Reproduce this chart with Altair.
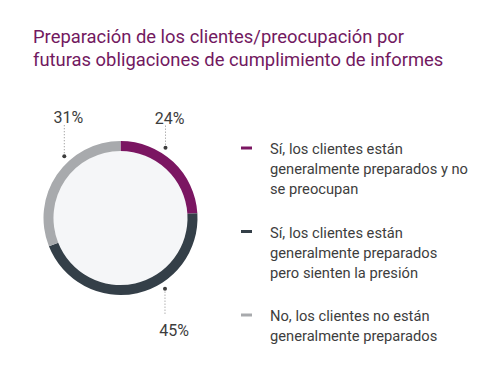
import altair as alt
import pandas as pd
import numpy as np

# ---------------- data ----------------
categories = [
    "Sí, los clientes están generalmente preparados y no se preocupan",
    "Sí, los clientes están generalmente preparados pero sienten la presión",
    "No, los clientes no están generalmente preparados",
]
values = [24, 45, 31]
value_labels = ["24%", "45%", "31%"]
legend_lines = [
    ["Sí, los clientes están", "generalmente preparados y no", "se preocupan"],
    ["Sí, los clientes están", "generalmente preparados", "pero sienten la presión"],
    ["No, los clientes no están", "generalmente preparados"],
]
title_lines = [
    "Preparación de los clientes/preocupación por",
    "futuras obligaciones de cumplimiento de informes",
]

# ---------------- style / layout ----------------
colors = ["#7b1662", "#343f48", "#a8aaad"]
TITLE_COLOR = "#72195f"
TEXT_COLOR = "#3d3d3d"
FONT = "Roboto"
W, H = 484, 282
PAD_TOP = 75
CX, CY = 112.5, 135
R_OUT, R_IN = 77, 67
dot_angle = [32.6, 147.8, -42.3]       # degrees clockwise from top
dot_radius = 83.5                      # px
label_offset = [(4, -29), (9, 42), (4, -38)]   # px from dot (dx, dy)
line_end = [-22, 25, -31]              # px from dot

# ---------------- frames ----------------
df = pd.DataFrame({"cat": categories, "val": values, "idx": range(len(values))})

color_scale = alt.Scale(domain=categories, range=colors)

ang = np.radians(dot_angle)
ann = pd.DataFrame({
    "cat": categories,
    "lab": value_labels,
    "dx": dot_radius * np.sin(ang) / R_OUT,
    "dy": dot_radius * np.cos(ang) / R_OUT,
})
ann["lx"] = ann["dx"] + np.array([o[0] for o in label_offset]) / R_OUT
ann["ly"] = ann["dy"] - np.array([o[1] for o in label_offset]) / R_OUT
ann["ey"] = ann["dy"] - np.array(line_end) / R_OUT

xs = alt.Scale(domain=[-1, 1], range=[CX - R_OUT, CX + R_OUT])
ys = alt.Scale(domain=[-1, 1], range=[CY + R_OUT, CY - R_OUT])

rows = []
group_y0 = 67
line_h = 20
group_step = 83.5
for g, lines in enumerate(legend_lines):
    for i, t in enumerate(lines):
        rows.append({"cat": categories[g], "text": t, "ypix": group_y0 + g * group_step + i * line_h, "first": i == 0})
leg = pd.DataFrame(rows)
leg_first = leg[leg["first"]].copy()
leg_first["ypix"] = leg_first["ypix"] - 2

# ---------------- layers ----------------
disk = alt.Chart(pd.DataFrame({"v": [1]})).mark_arc(
    outerRadius=R_IN, color="#f5f6f8"
).encode(theta=alt.Theta("v:Q"), x=alt.value(CX), y=alt.value(CY))

ring = alt.Chart(df).mark_arc(outerRadius=R_OUT, innerRadius=R_IN).encode(
    theta=alt.Theta("val:Q", stack=True),
    color=alt.Color("cat:N", scale=color_scale, legend=None),
    order=alt.Order("idx:Q"),
    x=alt.value(CX), y=alt.value(CY),
)

rules = alt.Chart(ann).mark_rule(strokeDash=[1, 2], color="#8a8a8a", strokeWidth=1).encode(
    x=alt.X("dx:Q", scale=xs, axis=None),
    y=alt.Y("dy:Q", scale=ys, axis=None),
    y2="ey:Q",
)

dots = alt.Chart(ann).mark_circle(size=16, color="#3d3d3d", opacity=1).encode(
    x=alt.X("dx:Q", scale=xs, axis=None),
    y=alt.Y("dy:Q", scale=ys, axis=None),
)

labels = alt.Chart(ann).mark_text(
    font=FONT, fontSize=16, color=TEXT_COLOR, baseline="middle", align="center"
).encode(
    x=alt.X("lx:Q", scale=xs, axis=None),
    y=alt.Y("ly:Q", scale=ys, axis=None),
    text="lab:N",
)

dash = alt.Chart(leg_first).mark_rule(strokeWidth=3).encode(
    x=alt.value(233), x2=alt.value(244),
    y=alt.Y("ypix:Q", scale=None, axis=None),
    color=alt.Color("cat:N", scale=color_scale, legend=None),
)

legtext = alt.Chart(leg).mark_text(
    font=FONT, fontSize=14.7, color=TEXT_COLOR, baseline="middle", align="left"
).encode(
    x=alt.value(262),
    y=alt.Y("ypix:Q", scale=None, axis=None),
    text="text:N",
)

chart = alt.layer(disk, ring, rules, dots, labels, dash, legtext).resolve_scale(
    theta="independent", x="independent", y="independent"
).properties(
    width=W, height=H,
    autosize=alt.AutoSizeParams(type="none"),
    padding={"top": PAD_TOP, "left": 0, "right": 0, "bottom": 0},
    title=alt.TitleParams(
        text=title_lines, anchor="start", dx=25, dy=19, offset=18,
        font=FONT, fontSize=18.4, fontWeight="normal", color=TITLE_COLOR,
        lineHeight=23, baseline="alphabetic",
    ),
).configure_view(stroke=None)

chart.save("out.html", embed_options={"renderer": "svg", "actions": False})
